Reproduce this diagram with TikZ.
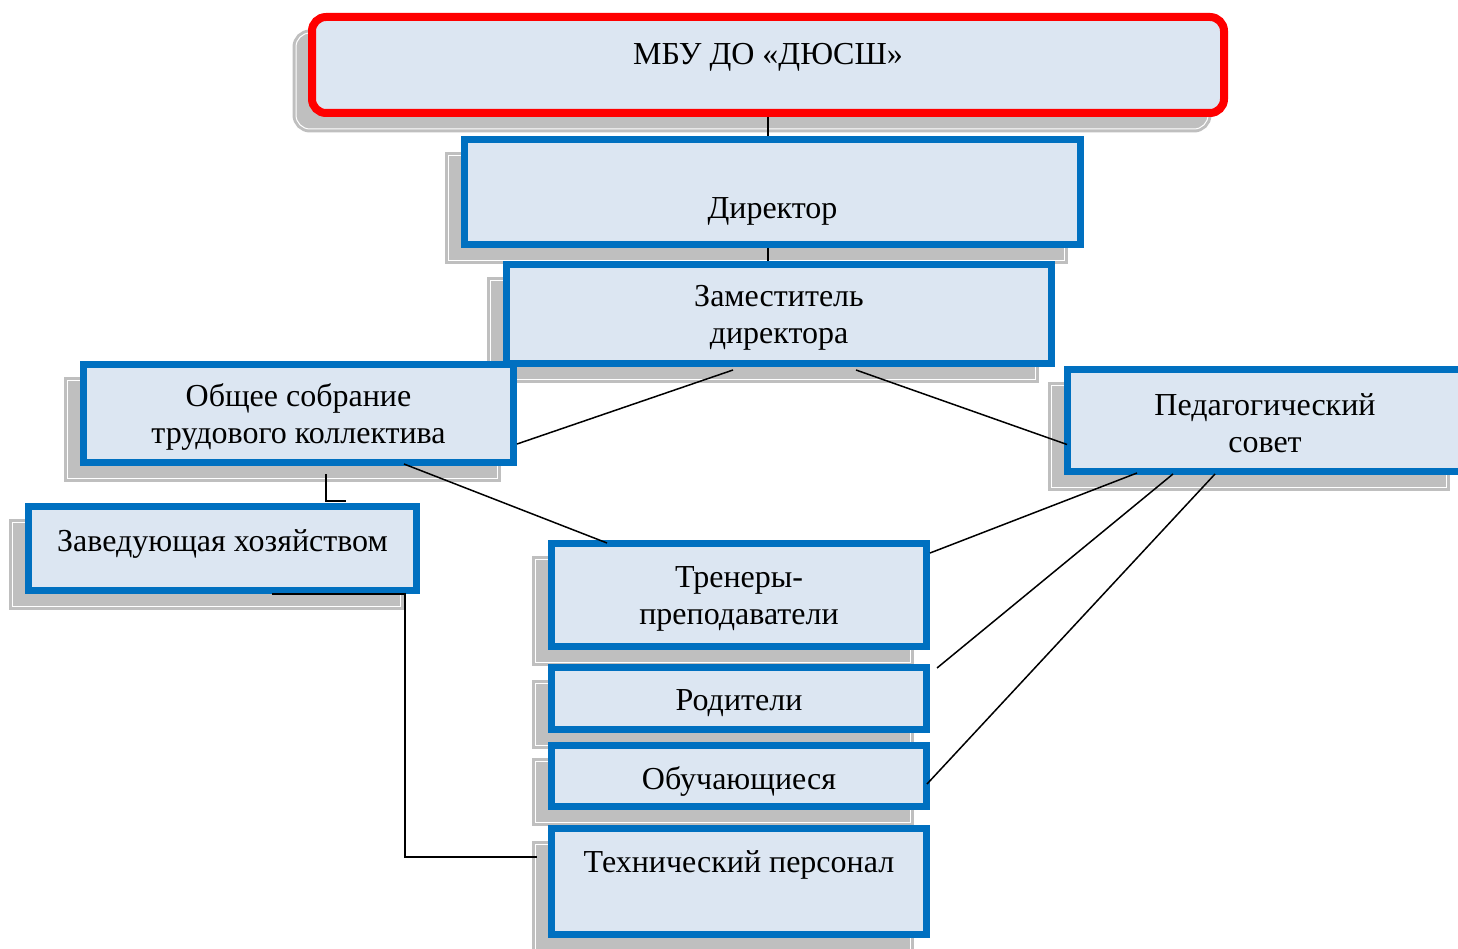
\documentclass[tikz,border=0pt]{standalone}
\usepackage{fontspec}
\setmainfont{Liberation Serif}
\usetikzlibrary{shadows,calc}
\definecolor{boxblue}{HTML}{0070C0}
\definecolor{boxfill}{HTML}{DCE6F2}
\definecolor{shadowgray}{HTML}{BFBFBF}
\definecolor{topred}{HTML}{FF0000}
\begin{document}
\begin{tikzpicture}[x=1pt, y=-1pt,
    grayshadow/.style={general shadow={shadow xshift=-16pt, shadow yshift=-16pt, draw=shadowgray, fill=shadowgray, line width=3pt, double=white, double distance=1pt}},
    orgbox/.style={rectangle, draw=boxblue, fill=boxfill, line width=7pt, inner sep=0pt, align=center, font=\fontsize{32}{37}\selectfont, grayshadow},
    topbox/.style={orgbox, draw=topred, line width=8pt, rounded corners=14pt},
    link/.style={draw=black, line width=1.5pt}]
    \useasboundingbox (0,0) rectangle (1458,949);
    \clip (0,0) rectangle (1458,949);

    \node[topbox, minimum width=912pt, minimum height=96pt, text height=31pt, text depth=31pt] (mbu) at (768,65) {МБУ ДО «ДЮСШ»};
    \node[orgbox, minimum width=616pt, minimum height=105pt, text height=61pt, text depth=7pt] (dir) at (772.5,192) {Директор};
    \node[orgbox, minimum width=545pt, minimum height=99pt] (zam) at (779,314) {\rule{0pt}{29pt}Заместитель\\директора};
    \node[orgbox, minimum width=430pt, minimum height=98pt] (obs) at (298.5,413.5) {\rule{0pt}{29pt}Общее собрание\\трудового коллектива};
    \node[orgbox, minimum width=395pt, minimum height=102pt] (ped) at (1265,420.5) {\rule{0pt}{28pt}Педагогический\\совет};
    \node[orgbox, minimum width=388pt, minimum height=84pt, text height=28pt, text depth=22pt] (zav) at (222.5,548.5) {Заведующая хозяйством};
    \node[orgbox, minimum width=375pt, minimum height=103pt] (tre) at (739,595) {\rule{0pt}{29pt}Тренеры-\\преподаватели};
    \node[orgbox, minimum width=375pt, minimum height=62pt, text height=31pt, text depth=7pt] (rod) at (739,698.5) {Родители};
    \node[orgbox, minimum width=375pt, minimum height=61pt, text height=34pt, text depth=7pt] (obu) at (739,776) {Обучающиеся};
    \node[orgbox, minimum width=375pt, minimum height=106pt, text height=28pt, text depth=46pt] (teh) at (739,881.5) {Технический персонал};

    \draw[link] (mbu.south) -- (mbu.south |- dir.north);
    \draw[link] (dir.south -| mbu.south) -- (zam.north -| mbu.south);
    \draw[link] ($(zam.south)+(-46,3)$) -- ($(obs.south east)+(0,-22)$);
    \draw[link] ($(zam.south)+(77,3)$) -- ($(ped.west)+(3,24)$);
    \draw[link] ($(obs.south)+(105.5,-2)$) -- ($(tre.north)+(-132,3)$);
    \draw[link] ($(obs.south)+(27.5,8)$) |- ($(zav.north)+(123.5,-2)$);
    \draw[link] ($(zav.south)+(49.5,0)$) -- ++(133,0) |- ($(teh.west)+(-11,-24.5)$);
    \draw[link] ($(ped.south)+(-128,-2)$) -- ($(tre.north east)+(0,13)$);
    \draw[link] ($(ped.south)+(-92,-1)$) -- ($(rod.north east)+(7,4)$);
    \draw[link] ($(ped.south)+(-50,-1)$) -- ($(obu.east)+(-3,8)$);
\end{tikzpicture}
\end{document}
